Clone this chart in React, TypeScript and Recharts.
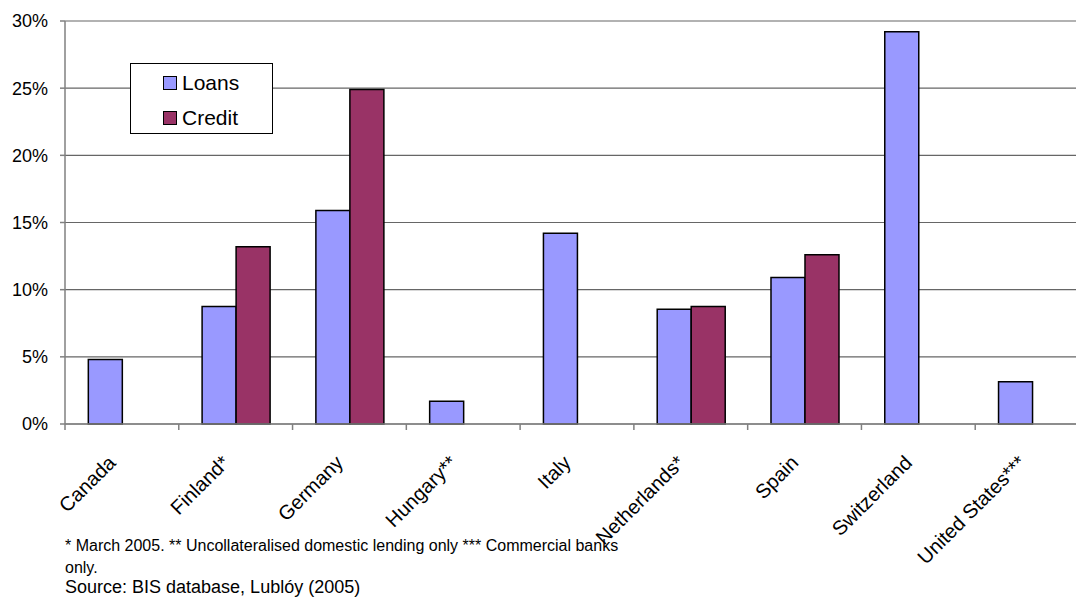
import React from "react";
import { Bar, BarChart, CartesianGrid, Legend, XAxis, YAxis } from "recharts";

const countries = [
  "Canada",
  "Finland*",
  "Germany",
  "Hungary**",
  "Italy",
  "Netherlands*",
  "Spain",
  "Switzerland",
  "United States***",
];
const loans = [4.8, 8.75, 15.9, 1.7, 14.2, 8.55, 10.9, 29.2, 3.15];
const credit = [null, 13.2, 24.9, null, null, 8.75, 12.6, null, null];
const yTicks = [0, 5, 10, 15, 20, 25, 30];

const LOANS_COLOR = "#9999FF";
const CREDIT_COLOR = "#993366";
const FONT = "'Liberation Sans', Arial, sans-serif";

const data = countries.map((name, i) => ({ name, loans: loans[i], credit: credit[i] }));

// label rotated -45deg, plus a tick mark on the left edge of each category
const CountryTick = (props: any) => {
  const { x, y, payload } = props;
  const edge = payload.coordinate - (payload.offset || 0);
  return (
    <g>
      <line x1={edge} x2={edge} y1={y} y2={y + 6} stroke="#808080" strokeWidth={1.5} />
      <text
        x={x - 5}
        y={y + 40}
        transform={`rotate(-45 ${x - 5} ${y + 40})`}
        textAnchor="end"
        fontSize={20}
        fontFamily={FONT}
        fill="#000"
      >
        {payload.value}
      </text>
    </g>
  );
};

const LegendBox = () => (
  <div
    style={{
      position: "absolute",
      left: 130,
      top: 63,
      width: 141,
      height: 69,
      border: "1px solid #000",
      background: "#fff",
      fontFamily: FONT,
      fontSize: 21,
      color: "#000",
    }}
  >
    {[
      { label: "Loans", color: LOANS_COLOR },
      { label: "Credit", color: CREDIT_COLOR },
    ].map((item, i) => (
      <div
        key={item.label}
        style={{ position: "absolute", left: 32, top: 7 + i * 35, display: "flex", alignItems: "center", height: 24 }}
      >
        <span
          style={{
            display: "inline-block",
            width: 12,
            height: 12,
            background: item.color,
            border: "1px solid #000",
            marginRight: 5,
          }}
        />
        <span>{item.label}</span>
      </div>
    ))}
  </div>
);

export default function App() {
  return (
    <div
      style={{
        position: "absolute",
        left: 0,
        top: 0,
        width: 1076,
        height: 598,
        overflow: "hidden",
        background: "#fff",
      }}
    >
      <BarChart
        width={1100}
        height={598}
        data={data}
        margin={{ top: 21, right: 11, bottom: 24, left: 0 }}
        barCategoryGap="20.5%"
        barGap={0}
      >
        <CartesianGrid vertical={false} stroke="#666" strokeWidth={1.2} />
        <XAxis
          dataKey="name"
          interval={0}
          height={150}
          tickSize={0}
          tickMargin={0}
          tickLine={false}
          axisLine={{ stroke: "#808080", strokeWidth: 1.5 }}
          tick={<CountryTick />}
        />
        <YAxis
          width={65}
          domain={[0, 30]}
          ticks={yTicks}
          tickFormatter={(v: number) => `${v}%`}
          tickSize={5}
          tickMargin={12}
          axisLine={{ stroke: "#808080", strokeWidth: 1.5 }}
          tickLine={{ stroke: "#808080", strokeWidth: 1.5 }}
          tick={{ fill: "#000", fontSize: 18, fontFamily: FONT }}
        />
        <Legend content={() => <LegendBox />} wrapperStyle={{ position: "absolute", left: 0, top: 0, width: 0, height: 0 }} />
        <Bar dataKey="loans" name="Loans" fill={LOANS_COLOR} stroke="#000" strokeWidth={1.5} isAnimationActive={false} />
        <Bar dataKey="credit" name="Credit" fill={CREDIT_COLOR} stroke="#000" strokeWidth={1.5} isAnimationActive={false} />
      </BarChart>
      <div
        style={{
          position: "absolute",
          left: 65,
          top: 535,
          fontFamily: FONT,
          fontSize: 16,
          lineHeight: "22px",
          color: "#000",
          whiteSpace: "nowrap",
        }}
      >
        <div>* March 2005. ** Uncollateralised domestic lending only *** Commercial banks</div>
        <div>only.</div>
      </div>
      <div
        style={{
          position: "absolute",
          left: 65,
          top: 577,
          fontFamily: FONT,
          fontSize: 18,
          color: "#000",
          whiteSpace: "nowrap",
        }}
      >
        Source: BIS database, Lublóy (2005)
      </div>
    </div>
  );
}
